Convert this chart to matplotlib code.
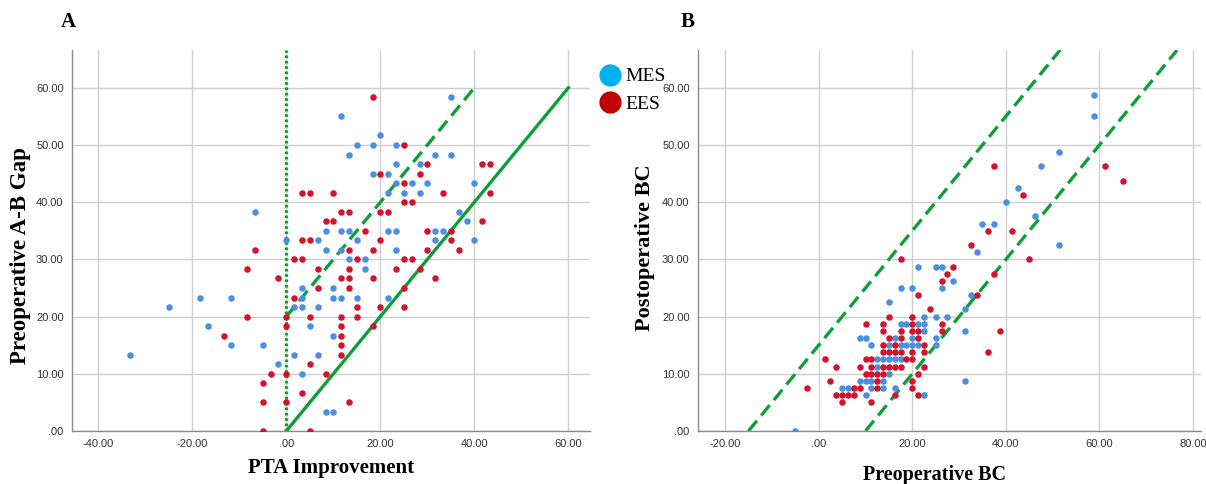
import numpy as np
import matplotlib.pyplot as plt
from matplotlib.lines import Line2D

# ---- Panel A: PTA improvement (x) vs preoperative A-B gap (y)
a_mes = [(35, 58.33), (11.67, 55), (20, 51.67), (15, 50), (18.33, 50), (23.33, 50),
         (13.33, 48.33), (31.67, 48.33), (35, 48.33), (23.33, 46.67), (28.33, 46.67),
         (18.33, 45), (21.67, 45), (23.33, 43.33), (26.67, 43.33), (30, 43.33), (40, 43.33),
         (21.67, 41.67), (25, 41.67), (28.33, 41.67), (-6.67, 38.33), (36.67, 38.33),
         (38.33, 36.67), (8.33, 35), (11.67, 35), (13.33, 35), (21.67, 35), (23.33, 35),
         (31.67, 35), (33.33, 35), (0, 33.33), (6.67, 33.33), (15, 33.33), (31.67, 33.33),
         (40, 33.33), (8.33, 31.67), (11.67, 31.67), (23.33, 31.67), (13.33, 30), (16.67, 30),
         (16.67, 28.33), (3.33, 25), (10, 25), (-18.33, 23.33), (-11.67, 23.33), (3.33, 23.33),
         (10, 23.33), (11.67, 23.33), (15, 23.33), (21.67, 23.33), (-25, 21.67), (1.67, 21.67),
         (3.33, 21.67), (6.67, 21.67), (-16.67, 18.33), (5, 18.33), (10, 16.67), (-11.67, 15),
         (-5, 15), (-33.33, 13.33), (1.67, 13.33), (6.67, 13.33), (-1.67, 11.67), (3.33, 10),
         (8.33, 3.33), (10, 3.33)]
a_ees = [(18.33, 58.33), (25, 50), (30, 46.67), (41.67, 46.67), (43.33, 46.67), (20, 45),
         (28.33, 45), (25, 43.33), (3.33, 41.67), (5, 41.67), (10, 41.67), (33.33, 41.67),
         (43.33, 41.67), (25, 40), (26.67, 40), (11.67, 38.33), (13.33, 38.33), (20, 38.33),
         (21.67, 38.33), (8.33, 36.67), (10, 36.67), (41.67, 36.67), (16.67, 35), (30, 35),
         (35, 35), (3.33, 33.33), (5, 33.33), (20, 33.33), (35, 33.33), (-6.67, 31.67),
         (13.33, 31.67), (18.33, 31.67), (30, 31.67), (36.67, 31.67), (1.67, 30), (3.33, 30),
         (15, 30), (25, 30), (26.67, 30), (-8.33, 28.33), (6.67, 28.33), (13.33, 28.33),
         (23.33, 28.33), (28.33, 28.33), (-1.67, 26.67), (11.67, 26.67), (13.33, 26.67),
         (18.33, 26.67), (31.67, 26.67), (6.67, 25), (13.33, 25), (25, 25), (1.67, 23.33),
         (15, 21.67), (20, 21.67), (25, 21.67), (-8.33, 20), (0, 20), (5, 20), (11.67, 20),
         (15, 20), (0, 18.33), (11.67, 18.33), (18.33, 18.33), (-13.33, 16.67), (11.67, 16.67),
         (11.67, 15), (11.67, 13.33), (5, 11.67), (-3.33, 10), (0, 10), (8.33, 10), (-5, 8.33),
         (3.33, 6.67), (-5, 5), (0, 5), (13.33, 5), (-5, 0), (5, 0)]

# ---- Panel B: preoperative BC (x) vs postoperative BC (y)
b_mes = [(58.75, 58.75), (58.75, 55), (51.25, 48.75), (47.5, 46.25), (42.5, 42.5), (40, 40),
         (46.25, 37.5), (35, 36.25), (37.5, 36.25), (51.25, 32.5), (33.75, 31.25),
         (21.25, 28.75), (25, 28.75), (26.25, 28.75), (28.75, 26.25), (17.5, 25), (20, 25),
         (26.25, 25), (32.5, 23.75), (15, 22.5), (31.25, 21.25), (22.5, 20), (25, 20),
         (27.5, 20), (17.5, 18.75), (18.75, 18.75), (21.25, 18.75), (22.5, 18.75),
         (22.5, 17.5), (31.25, 17.5), (8.75, 16.25), (10, 16.25), (16.25, 16.25), (20, 16.25),
         (25, 16.25), (11.25, 15), (15, 15), (17.5, 15), (18.75, 15), (20, 15), (21.25, 15),
         (25, 15), (12.5, 12.5), (13.75, 12.5), (15, 12.5), (16.25, 12.5), (17.5, 12.5),
         (12.5, 11.25), (15, 10), (8.75, 8.75), (10, 8.75), (11.25, 8.75), (13.75, 8.75),
         (31.25, 8.75), (5, 7.5), (6.25, 7.5), (11.25, 7.5), (13.75, 7.5), (16.25, 7.5),
         (10, 6.25), (22.5, 6.25), (-5, 0)]
b_ees = [(61.25, 46.25), (65, 43.75), (37.5, 46.25), (43.75, 41.25), (36.25, 35), (41.25, 35),
         (32.5, 32.5), (45, 30), (17.5, 30), (28.75, 28.75), (27.5, 27.5), (37.5, 27.5),
         (26.25, 26.25), (21.25, 23.75), (33.75, 23.75), (23.75, 21.25), (15, 20), (20, 20),
         (10, 18.75), (13.75, 18.75), (20, 18.75), (26.25, 18.75), (13.75, 17.5), (17.5, 17.5),
         (20, 17.5), (21.25, 17.5), (26.25, 17.5), (38.75, 17.5), (15, 16.25), (17.5, 16.25),
         (21.25, 16.25), (13.75, 15), (16.25, 15), (22.5, 15), (13.75, 13.75), (15, 13.75),
         (16.25, 13.75), (17.5, 13.75), (20, 13.75), (22.5, 13.75), (36.25, 13.75),
         (1.25, 12.5), (10, 12.5), (11.25, 12.5), (18.75, 12.5), (20, 12.5), (3.75, 11.25),
         (8.75, 11.25), (11.25, 11.25), (13.75, 11.25), (15, 11.25), (16.25, 11.25),
         (17.5, 11.25), (22.5, 11.25), (10, 10), (11.25, 10), (12.5, 10), (13.75, 10),
         (21.25, 10), (2.5, 8.75), (12.5, 8.75), (20, 8.75), (-2.5, 7.5), (7.5, 7.5),
         (8.75, 7.5), (12.5, 7.5), (20, 7.5), (3.75, 6.25), (5, 6.25), (6.25, 6.25),
         (7.5, 6.25), (16.25, 6.25), (21.25, 6.25), (5, 5), (11.25, 5)]

# reference lines
a_dashed_offset = 20      # y = x + 20
b_band_offsets = [15, -10]  # y = x + 15 and y = x - 10

blue = '#4a8fe0'
red = '#d3122c'
green = '#0f9e3a'
serif = 'Liberation Serif'
sans = 'Liberation Sans'

fig = plt.figure(figsize=(12.06, 4.84), dpi=100)
axA = fig.add_axes([72 / 1206, 1 - 431 / 484, 518 / 1206, 381 / 484])
axB = fig.add_axes([698 / 1206, 1 - 431 / 484, 503 / 1206, 381 / 484])


def style(ax, xlim, xticks):
    ax.set_xlim(*xlim)
    ax.set_ylim(0, 66.6)
    ax.set_xticks(xticks)
    ax.set_yticks(np.arange(0, 61, 10))
    fmt = lambda v: ('%.2f' % v).replace('0.', '.', 1) if abs(v) < 1 else '%.2f' % v
    ax.set_xticklabels([fmt(v) for v in xticks], fontfamily=sans, fontsize=8, color='#333333')
    ax.set_yticklabels([fmt(v) for v in range(0, 61, 10)], fontfamily=sans, fontsize=8,
                       color='#333333')
    ax.tick_params(length=0, pad=6)
    ax.grid(True, color='#cfcfcf', lw=1)
    ax.set_axisbelow(True)
    for s in ['top', 'right']:
        ax.spines[s].set_visible(False)
    for s in ['left', 'bottom']:
        ax.spines[s].set_color('#8c8c8c')
        ax.spines[s].set_linewidth(1)


style(axA, (-45.6, 64.6), np.arange(-40, 61, 20))
style(axB, (-25.8, 81.7), np.arange(-20, 81, 20))

# Panel A
axA.plot([0, 0], [0, 66.6], color=green, lw=2.4, ls=(0, (0.8, 0.8)), zorder=2)
axA.plot([0, 60], [0, 60], color=green, lw=2.4, zorder=2)
axA.plot([0, 60 - a_dashed_offset], [a_dashed_offset, 60], color=green, lw=2.4,
         ls=(0, (4, 2)), zorder=2)
for pts, c in [(a_mes, blue), (a_ees, red)]:
    p = np.array(pts)
    axA.scatter(p[:, 0], p[:, 1], s=22, color=c, linewidths=0, zorder=3)

# Panel B
for off in b_band_offsets:
    xs = np.array([-off, 66.6 - off])
    axB.plot(xs, xs + off, color=green, lw=2.4, ls=(0, (4, 2)), zorder=2)
for pts, c in [(b_mes, blue), (b_ees, red)]:
    p = np.array(pts)
    axB.scatter(p[:, 0], p[:, 1], s=22, color=c, linewidths=0, zorder=3)

lab = dict(fontfamily=serif, fontweight='bold')
axA.set_xlabel('PTA Improvement', fontsize=15, **lab)
axA.xaxis.set_label_coords(0.5, -0.072)
axA.set_ylabel('Preoperative A-B Gap', fontsize=16.5, **lab)
axA.yaxis.set_label_coords(-0.08, 0.46)
axB.set_xlabel('Preoperative BC', fontsize=14.5, **lab)
axB.xaxis.set_label_coords(0.471, -0.09)
axB.set_ylabel('Postoperative BC', fontsize=16, **lab)
axB.yaxis.set_label_coords(-0.085, 0.48)

fig.text(68 / 1206, 1 - 22 / 484, 'A', fontfamily=serif, fontweight='bold', fontsize=15,
         ha='center', va='center')
fig.text(688 / 1206, 1 - 22 / 484, 'B', fontfamily=serif, fontweight='bold', fontsize=15,
         ha='center', va='center')

handles = [Line2D([], [], marker='o', ls='none', markersize=15, color='#00b0f0'),
           Line2D([], [], marker='o', ls='none', markersize=15, color='#c00000')]
fig.legend(handles, ['MES', 'EES'], loc='upper left', bbox_to_anchor=(587 / 1206, 1 - 58 / 484),
           frameon=False, prop={'family': serif, 'size': 14}, handletextpad=0.05,
           labelspacing=0.5, borderpad=0, handlelength=1.4)

fig.savefig('out.png', dpi=100)
